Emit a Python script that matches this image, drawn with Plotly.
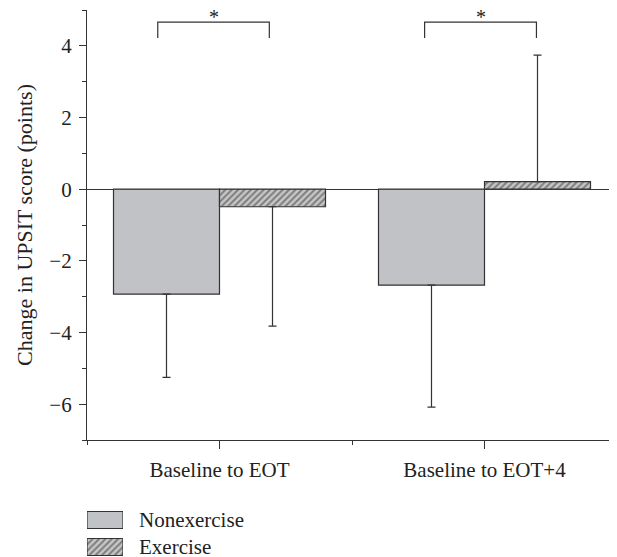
import plotly.graph_objects as go

# ---- data ----
categories = ["Baseline to EOT", "Baseline to EOT+4"]
series_names = ["Nonexercise", "Exercise"]
nonexercise_mean = [-2.93, -2.68]
nonexercise_err = [2.32, 3.40]
exercise_mean = [-0.49, 0.21]
exercise_err = [3.33, 3.53]
y_ticks = [-6, -4, -2, 0, 2, 4]
y_tick_labels = ["\u22126", "\u22124", "\u22122", "0", "2", "4"]
# significance brackets: (left, right) in category units, height in points
brackets = [(-0.233, 0.188), (-0.226, 0.196)]
bracket_top = 4.66
bracket_leg = 4.22
sig_text = "*"

FONT = "Liberation Serif"
TXT = "#222222"
LINE = "#333333"
GRAY = "#c1c2c5"

# page has an 8px body margin; compensate so the figure fills the 617x557 window
OFF = 8
W, H = 617 - OFF, 557 - OFF
ML, MR, MT, MB = 87 - OFF, 0, 10 - OFF, 0
ph = H - MT - MB
pw = W - ML - MR
main_bottom = (557 - 440) / ph

x_idx = list(range(len(categories)))


def split_err(means, errs):
    plus = [e if m >= 0 else 0 for m, e in zip(means, errs)]
    minus = [e if m < 0 else 0 for m, e in zip(means, errs)]
    return plus, minus


fig = go.Figure()

p, m = split_err(nonexercise_mean, nonexercise_err)
fig.add_trace(go.Bar(
    x=x_idx, y=nonexercise_mean, name=series_names[0],
    marker=dict(color=GRAY, line=dict(color=LINE, width=1.2)),
    error_y=dict(type="data", symmetric=False, array=p, arrayminus=m,
                 color=LINE, thickness=1.2, width=4),
    showlegend=False, xaxis="x", yaxis="y",
))
p, m = split_err(exercise_mean, exercise_err)
hatch = dict(shape="/", fgcolor="#333333", bgcolor="#c6c6c6", size=4.5, solidity=0.45)
fig.add_trace(go.Bar(
    x=x_idx, y=exercise_mean, name=series_names[1],
    marker=dict(color="#c6c6c6", line=dict(color=LINE, width=1.2), pattern=hatch),
    error_y=dict(type="data", symmetric=False, array=p, arrayminus=m,
                 color=LINE, thickness=1.2, width=4),
    showlegend=False, xaxis="x", yaxis="y",
))

# ---- custom legend swatches on a small hidden axis pair ----
fig.add_trace(go.Bar(
    x=[1], y=[1], base=[0], orientation="h", width=0.63,
    marker=dict(color=GRAY, line=dict(color=LINE, width=1.2)),
    showlegend=False, xaxis="x2", yaxis="y2", cliponaxis=False, hoverinfo="skip",
))
fig.add_trace(go.Bar(
    x=[1], y=[0], base=[0], orientation="h", width=0.63,
    marker=dict(color="#c6c6c6", line=dict(color=LINE, width=1.2), pattern=hatch),
    showlegend=False, xaxis="x2", yaxis="y2", cliponaxis=False, hoverinfo="skip",
))

annotations = []
for row, name in zip([1, 0], series_names):
    annotations.append(dict(
        x=1, y=row, xref="x2", yref="y2", text=name, showarrow=False,
        xanchor="left", yanchor="middle", xshift=14,
        font=dict(family=FONT, size=21, color=TXT),
    ))

shapes = []
for ci, (l, r) in enumerate(brackets):
    x0 = ci + l
    x1 = ci + r
    shapes.append(dict(
        type="path", xref="x", yref="y",
        path=f"M {x0},{bracket_leg} L {x0},{bracket_top} L {x1},{bracket_top} L {x1},{bracket_leg}",
        line=dict(color=LINE, width=1.2),
    ))
    annotations.append(dict(
        x=(x0 + x1) / 2, y=bracket_top, xref="x", yref="y", text=sig_text,
        showarrow=False, xanchor="center", yanchor="bottom", yshift=-8,
        font=dict(family=FONT, size=20, color=TXT),
    ))

fig.update_layout(
    width=W, height=H,
    margin=dict(l=ML, r=MR, t=MT, b=MB, pad=0),
    paper_bgcolor="white", plot_bgcolor="white",
    barmode="group", bargap=0.2, bargroupgap=0,
    font=dict(family=FONT, size=21, color=TXT),
    shapes=shapes, annotations=annotations,
    xaxis=dict(
        domain=[0, 1], anchor="y", range=[-0.5, 1.5],
        tickvals=x_idx, ticktext=categories,
        ticks="outside", ticklen=8, tickwidth=1.2, tickcolor=LINE,
        showline=True, linecolor=LINE, linewidth=1.2,
        showgrid=False, zeroline=False,
        minor=dict(tickvals=[-0.5, 0.5, 1.5], ticks="outside", ticklen=4,
                   tickwidth=1.2, tickcolor=LINE, showgrid=False),
        tickfont=dict(family=FONT, size=21, color=TXT),
        ticklabelstandoff=3,
    ),
    yaxis=dict(
        domain=[main_bottom, 1], anchor="x", range=[-7, 5],
        tickvals=y_ticks, ticktext=y_tick_labels,
        ticks="outside", ticklen=7, tickwidth=1.2, tickcolor=LINE,
        showline=True, linecolor=LINE, linewidth=1.2,
        showgrid=False, zeroline=True, zerolinecolor=LINE, zerolinewidth=1.2,
        minor=dict(dtick=1, tick0=0, ticks="outside", ticklen=4,
                   tickwidth=1.2, tickcolor=LINE, showgrid=False),
        tickfont=dict(family=FONT, size=21, color=TXT),
        ticklabelstandoff=3,
        title=dict(text="Change in UPSIT score (points)", standoff=10,
                   font=dict(family=FONT, size=22, color=TXT)),
    ),
    xaxis2=dict(domain=[0, 36 / pw], anchor="y2", range=[0, 1], visible=False),
    yaxis2=dict(domain=[0, 50.5 / ph], anchor="x2", range=[-0.37, 1.5], visible=False),
)

fig.write_html("out.html")
